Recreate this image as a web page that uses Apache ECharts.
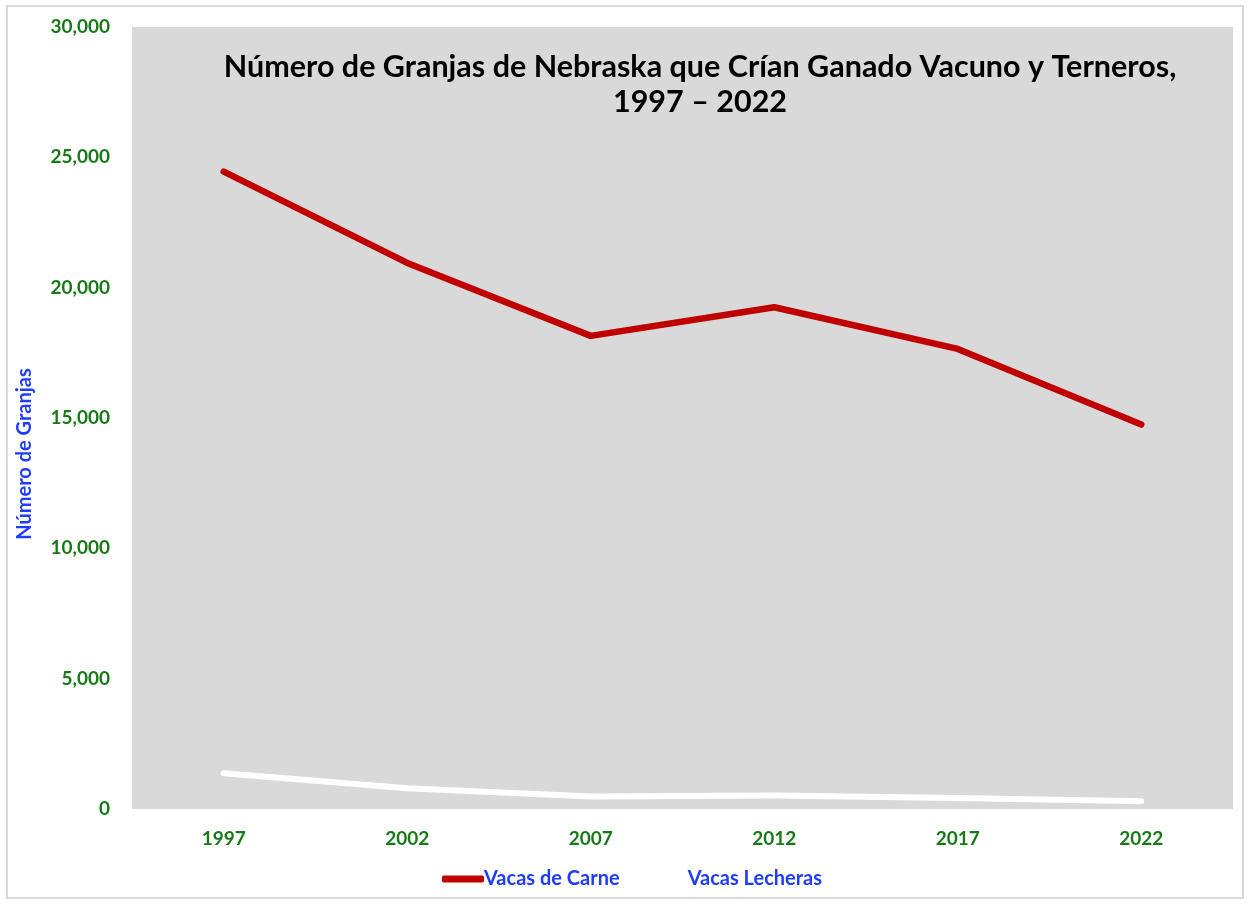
<!DOCTYPE html>
<html>
<head>
<meta charset="utf-8">
<script src="https://cdn.jsdelivr.net/npm/echarts@6/dist/echarts.min.js"></script>
<style>
  html, body { margin: 0; padding: 0; background: #fff; }
  #chart { width: 1249px; height: 904px; }
</style>
</head>
<body>
<div id="chart"></div>
<script>
// data
var years = ['1997', '2002', '2007', '2012', '2017', '2022'];
var beefFarms = [24450, 20950, 18150, 19250, 17650, 14750];
var dairyFarms = [1370, 800, 480, 520, 420, 300];
var seriesNames = ['Vacas de Carne', 'Vacas Lecheras'];

var font = 'Lato';
var green = '#177a17';
var blue = '#1f3cff';

var chart = echarts.init(document.getElementById('chart'));
var option = {
    backgroundColor: '#fff',
    animation: false,
    title: {
        text: 'Número de Granjas de Nebraska que Crían Ganado Vacuno y Terneros,\n1997 – 2022',
        left: 695,
        top: 45,
        textAlign: 'center',
        textStyle: {
            fontFamily: font,
            fontWeight: 'bold',
            fontSize: 30.5,
            lineHeight: 35,
            color: '#000'
        }
    },
    grid: {
        show: true,
        left: 132,
        right: 16,
        top: 27,
        bottom: 95,
        backgroundColor: '#d9d9d9',
        borderWidth: 0
    },
    legend: {
        data: seriesNames,
        left: 437,
        top: 864,
        itemWidth: 42,
        itemHeight: 7,
        itemGap: 26,
        icon: 'roundRect',
        textStyle: {
            fontFamily: font,
            fontWeight: 'bold',
            fontSize: 20,
            color: blue,
            padding: [0, 0, 0, -5]
        }
    },
    xAxis: {
        type: 'category',
        data: years,
        boundaryGap: true,
        axisLine: { show: false },
        axisTick: { show: false },
        axisLabel: {
            margin: 20,
            fontFamily: font,
            fontWeight: 'bold',
            fontSize: 19,
            color: green
        }
    },
    yAxis: {
        type: 'value',
        min: 0,
        max: 30000,
        interval: 5000,
        axisLine: { show: false },
        axisTick: { show: false },
        splitLine: { show: false },
        axisLabel: {
            margin: 22,
            fontFamily: font,
            fontWeight: 'bold',
            fontSize: 19,
            color: green,
            formatter: function (v) { return v.toLocaleString('en-US'); }
        }
    },
    graphic: [{
        type: 'rect',
        shape: { x: 7, y: 6, width: 1236, height: 892 },
        style: { fill: 'none', stroke: '#d9d9d9', lineWidth: 2 },
        silent: true
    }, {
        type: 'text',
        x: 25,
        y: 454,
        rotation: Math.PI / 2,
        style: {
            text: 'Número de Granjas',
            fontFamily: font,
            fontWeight: 'bold',
            fontSize: 20,
            fill: blue,
            textAlign: 'center',
            textVerticalAlign: 'middle'
        }
    }],
    series: [{
        name: seriesNames[0],
        type: 'line',
        data: beefFarms,
        symbol: 'none',
        lineStyle: { color: '#c00000', width: 6.5, cap: 'round', join: 'round' },
        itemStyle: { color: '#c00000' }
    }, {
        name: seriesNames[1],
        type: 'line',
        data: dairyFarms,
        symbol: 'none',
        lineStyle: { color: '#ffffff', width: 6, cap: 'round', join: 'round' },
        itemStyle: { color: '#ffffff' }
    }]
};
chart.setOption(option);
</script>
</body>
</html>
